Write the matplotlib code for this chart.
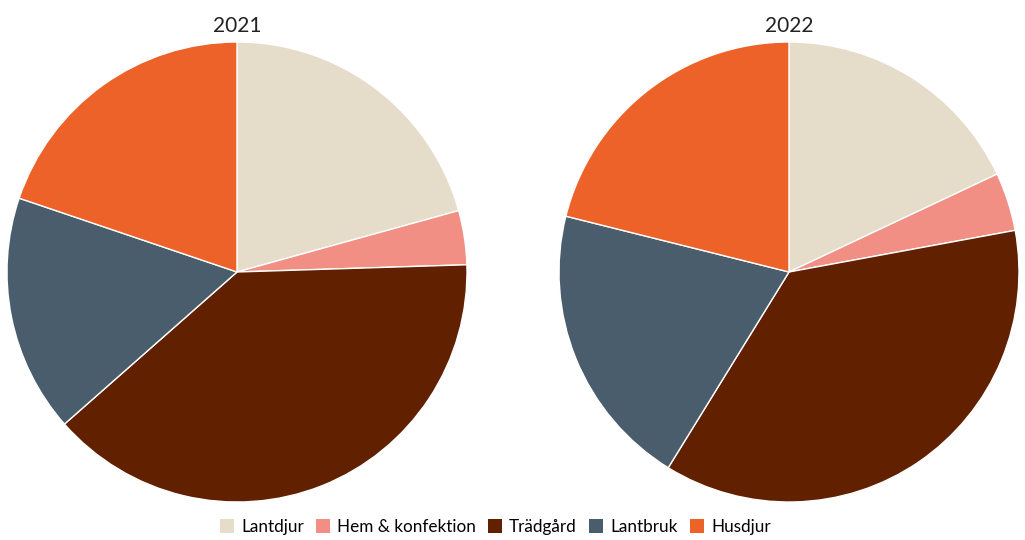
import matplotlib.pyplot as plt
from matplotlib.patches import Patch

categories = ['Lantdjur', 'Hem & konfektion', 'Trädgård', 'Lantbruk', 'Husdjur']
values_2021 = [20.7, 3.8, 39.0, 16.7, 19.8]
values_2022 = [18.0, 4.1, 36.7, 20.1, 21.1]
years = ['2021', '2022']

colors = ['#E6DCCA', '#F28F84', '#612000', '#4A5D6D', '#EC6228']

plt.rcParams['font.family'] = ['Lato', 'DejaVu Sans']

fig = plt.figure(figsize=(10.25, 5.4), dpi=100)
W, H = 1025, 540
boxes = [(7, 38), (559, 38)]

for (x0, y0), year, vals in zip(boxes, years, [values_2021, values_2022]):
    ax = fig.add_axes([x0 / W, y0 / H, 460 / W, 460 / H])
    ax.pie(vals, colors=colors, startangle=90, counterclock=False,
           wedgeprops=dict(edgecolor='white', linewidth=1))
    ax.set_xlim(-1, 1)
    ax.set_ylim(-1, 1)
    ax.set_title(year, fontsize=15, color='#222222', pad=7)

handles = [Patch(facecolor=c, label=l) for c, l in zip(colors, categories)]
fig.legend(handles=handles, loc='center', bbox_to_anchor=(0.483, 1 - 527 / H),
           ncol=5, frameon=False, fontsize=12.3, handlelength=0.85,
           handleheight=0.85, handletextpad=0.4, columnspacing=0.7)

fig.savefig('out.png', dpi=100)
